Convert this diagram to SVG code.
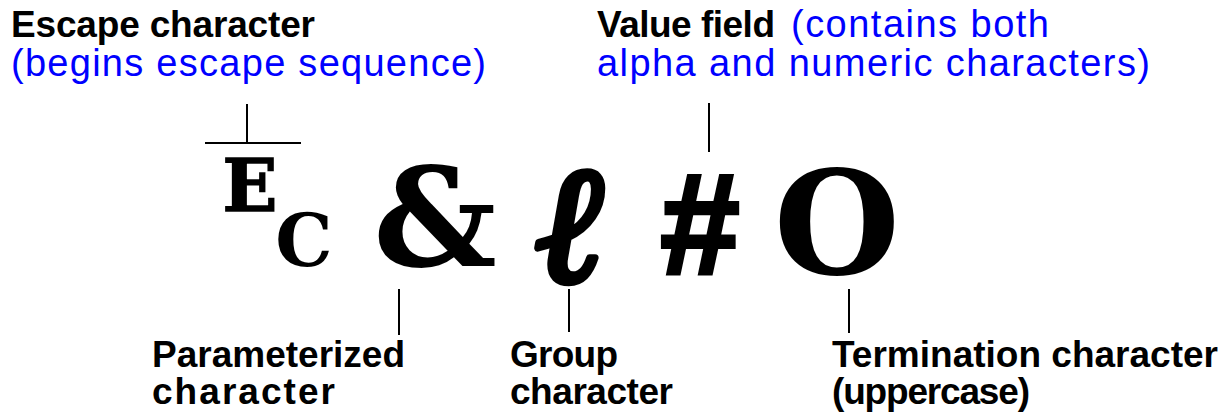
<svg xmlns="http://www.w3.org/2000/svg" width="1224" height="414" viewBox="0 0 1224 414">
<style>
.lbl{font-family:"Liberation Sans",Arial,sans-serif;font-size:37px;font-weight:bold;fill:#000}
.note{font-family:"Liberation Sans",Arial,sans-serif;font-size:38px;font-weight:normal;fill:#0000ff}
.glyph{font-family:"DejaVu Serif",serif;font-weight:bold;fill:#000;text-anchor:middle}
.hash{font-family:"Liberation Sans",Arial,sans-serif;font-weight:bold;fill:#000;stroke:#000;stroke-width:4;text-anchor:middle}
.script{font-family:"DejaVu Serif",serif;font-weight:bold;font-style:italic;fill:#000;stroke:#000;stroke-width:7;stroke-linejoin:round;text-anchor:middle}
.conn line{stroke:#000;stroke-width:2;fill:none}
</style>
<rect width="1224" height="414" fill="#fff"/>
<g id="escape">
<text class="lbl" x="11" y="37" textLength="304" lengthAdjust="spacing">Escape character</text>
<text class="note" x="11" y="76" textLength="475" lengthAdjust="spacing">(begins escape sequence)</text>
<text class="glyph" x="250" y="211" font-size="72" stroke="#000" stroke-width="1.5">E</text>
<text class="glyph" x="304" y="266" font-size="72">C</text>
</g>
<g id="parameterized">
<text class="glyph" x="435" y="266" font-size="137">&amp;</text>
<text class="lbl" x="152" y="367" textLength="253" lengthAdjust="spacing">Parameterized</text>
<text class="lbl" x="152" y="404" textLength="183" lengthAdjust="spacing">character</text>
</g>
<g id="group">
<text class="script" x="572" y="281" font-size="164">ℓ</text>
<text class="lbl" x="510" y="367" textLength="108" lengthAdjust="spacing">Group</text>
<text class="lbl" x="510" y="404" textLength="163" lengthAdjust="spacing">character</text>
</g>
<g id="value">
<text class="hash" x="700" y="274" font-size="142">#</text>
<text class="lbl" x="597" y="37" textLength="178" lengthAdjust="spacing">Value field</text>
<text class="note" x="791" y="37" textLength="258" lengthAdjust="spacing">(contains both</text>
<text class="note" x="597" y="76" textLength="553" lengthAdjust="spacing">alpha and numeric characters)</text>
</g>
<g id="termination">
<text class="glyph" x="837" y="274" font-size="145">O</text>
<text class="lbl" x="832" y="367" textLength="386" lengthAdjust="spacing">Termination character</text>
<text class="lbl" x="832" y="404" textLength="198" lengthAdjust="spacing">(uppercase)</text>
</g>
<g id="connectors" class="conn">
<line x1="247" y1="104" x2="247" y2="143"/>
<line x1="205" y1="143" x2="301" y2="143"/>
<line x1="709" y1="103" x2="709" y2="152"/>
<line x1="399" y1="289" x2="399" y2="335"/>
<line x1="569" y1="289" x2="569" y2="332"/>
<line x1="849" y1="289" x2="849" y2="333"/>
</g>
</svg>
